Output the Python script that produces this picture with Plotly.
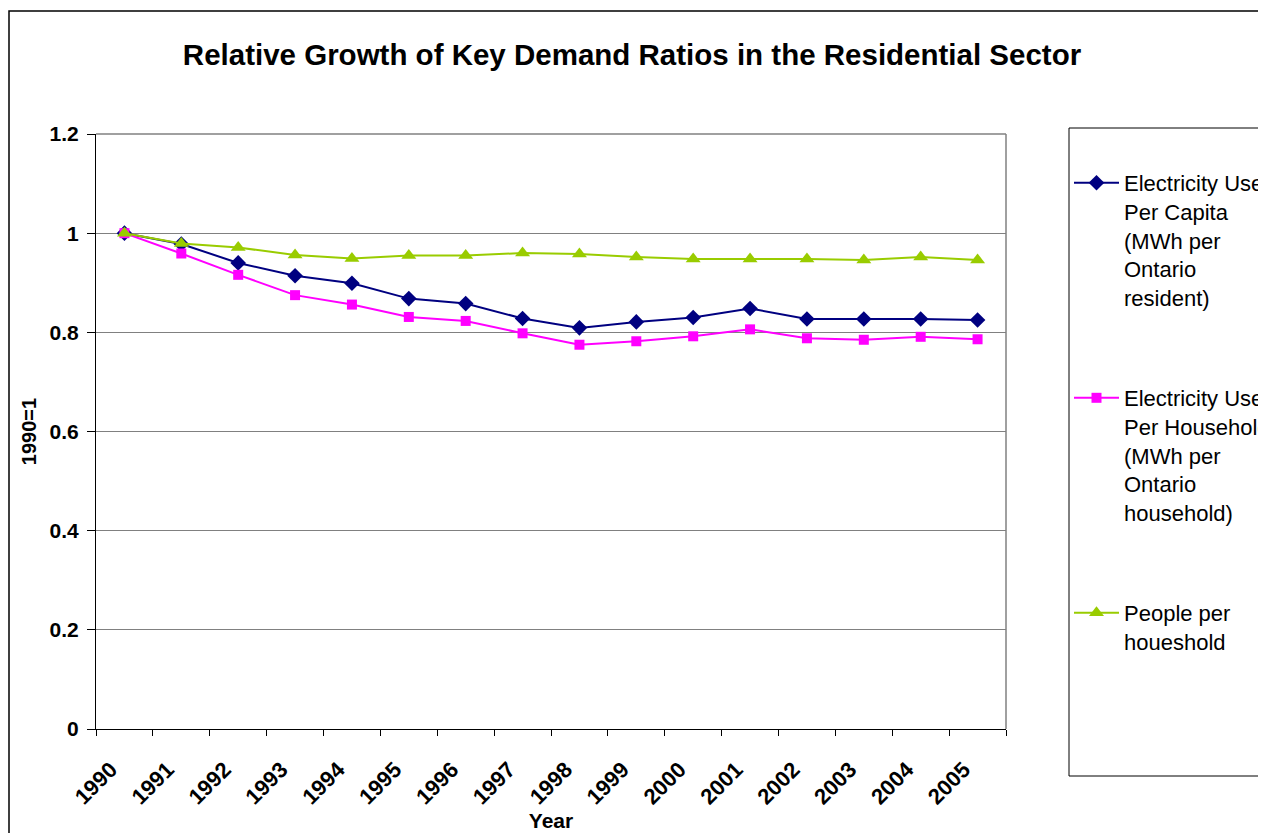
import plotly.graph_objects as go

years = [str(y) for y in range(1990, 2006)]
per_capita = [1.0, 0.978, 0.940, 0.914, 0.899, 0.868, 0.858, 0.828, 0.809, 0.821,
              0.830, 0.848, 0.827, 0.827, 0.827, 0.825]
per_household = [1.0, 0.959, 0.916, 0.875, 0.856, 0.831, 0.823, 0.798, 0.775, 0.782,
                 0.792, 0.806, 0.788, 0.785, 0.791, 0.786]
people_per_household = [1.0, 0.979, 0.971, 0.956, 0.949, 0.955, 0.955, 0.960, 0.958, 0.952,
                        0.948, 0.948, 0.948, 0.946, 0.952, 0.946]
series_names = [
    "Electricity Use<br>Per Capita<br>(MWh per<br>Ontario<br>resident)",
    "Electricity Use<br>Per Household<br>(MWh per<br>Ontario<br>household)",
    "People per<br>houeshold",
]
y_ticks = [0, 0.2, 0.4, 0.6, 0.8, 1, 1.2]
y_ticktext = ["0", "0.2", "0.4", "0.6", "0.8", "1", "1.2"]

FONT = "Liberation Sans, Arial, sans-serif"
OFF = 8                      # default page body margin
W, H = 1266 - OFF, 833 - OFF
L, R, T, B = 96, 1006, 134, 729   # plot area in screen pixels

def px(x):
    return (x - L) / (R - L)

def py(y):
    return (B - y) / (B - T)

xi = list(range(len(years)))

fig = go.Figure()
styles = [
    ("#000080", "diamond", 12),
    ("#FF00FF", "square", 10),
    ("#99CC00", "triangle-up", 13),
]
for i, (vals, name, (col, sym, sz)) in enumerate(zip([per_capita, per_household, people_per_household], series_names, styles)):
    fig.add_trace(go.Scatter(
        x=xi, y=vals, name=name, mode="lines+markers",
        line=dict(color=col, width=2),
        marker=dict(symbol=sym, size=sz, color=col),
        legendgroup=f"g{i}",
    ))

# invisible trace carrying the category-boundary tick marks
fig.add_trace(go.Scatter(x=[-0.5, len(years) - 0.5], y=[None, None], xaxis="x2",
                         showlegend=False, hoverinfo="skip"))

fig.update_layout(
    width=W, height=H,
    margin=dict(l=L - OFF, r=W - (R - OFF), t=T - OFF, b=H - (B - OFF), autoexpand=False),
    paper_bgcolor="white", plot_bgcolor="white",
    font=dict(family=FONT, color="black"),
    title=dict(text="<b>Relative Growth of Key Demand Ratios in the Residential Sector</b>",
               font=dict(size=29.5, family=FONT, color="black"),
               x=(632 - OFF) / W, xanchor="center", xref="container",
               y=1 - (55 - OFF) / H, yanchor="middle", yref="container"),
    xaxis=dict(
        range=[-0.5, len(years) - 0.5],
        tickmode="array", tickvals=[i - 0.24 for i in xi], ticktext=years,
        tickangle=-45, ticks="", ticklabelstandoff=18,
        tickfont=dict(size=22, family=FONT, color="black", weight="bold"),
        showgrid=False, zeroline=False,
        showline=True, linecolor="black", linewidth=1,
        title=dict(text="<b>Year</b>", font=dict(size=21, family=FONT, color="black"), standoff=2),
        automargin=False,
    ),
    xaxis2=dict(
        overlaying="x", anchor="y", side="bottom",
        range=[-0.5, len(years) - 0.5],
        tickmode="array", tickvals=[i - 0.5 for i in range(len(years) + 1)],
        ticks="outside", ticklen=6, tickcolor="black", tickwidth=1,
        showticklabels=False, showgrid=False, zeroline=False, showline=False,
    ),
    yaxis=dict(
        range=[0, 1.2], tickmode="array", tickvals=y_ticks, ticktext=y_ticktext,
        ticks="outside", ticklen=8, tickcolor="black", ticklabelstandoff=4,
        tickfont=dict(size=21, family=FONT, color="black", weight="bold"),
        showgrid=True, gridcolor="#808080", gridwidth=1,
        zeroline=False, showline=True, linecolor="black", linewidth=1,
        title=dict(text="<b>1990=1</b>", font=dict(size=20, family=FONT, color="black"), standoff=7),
        automargin=False,
    ),
    legend=dict(
        x=px(1069), xanchor="left", y=py(162), yanchor="top",
        font=dict(size=22, family=FONT, color="black"),
        traceorder="grouped", tracegroupgap=69, valign="top",
        bgcolor="rgba(0,0,0,0)", borderwidth=0, itemwidth=45,
    ),
    showlegend=True,
    shapes=[
        # outer chart border
        dict(type="rect", xref="paper", yref="paper",
             x0=px(9), y0=py(900), x1=px(1400), y1=py(11),
             line=dict(color="black", width=1.5), fillcolor="rgba(0,0,0,0)", layer="below"),
        # legend box
        dict(type="rect", xref="paper", yref="paper",
             x0=px(1069), y0=py(776), x1=px(1400), y1=py(128),
             line=dict(color="black", width=1), fillcolor="rgba(0,0,0,0)"),
        # plot area border (top/right gray)
        dict(type="line", xref="paper", yref="paper", x0=0, y0=1, x1=1, y1=1,
             line=dict(color="#808080", width=1.5)),
        dict(type="line", xref="paper", yref="paper", x0=1, y0=0, x1=1, y1=1,
             line=dict(color="#808080", width=1.5)),
    ],
)

fig.write_html("out.html")
